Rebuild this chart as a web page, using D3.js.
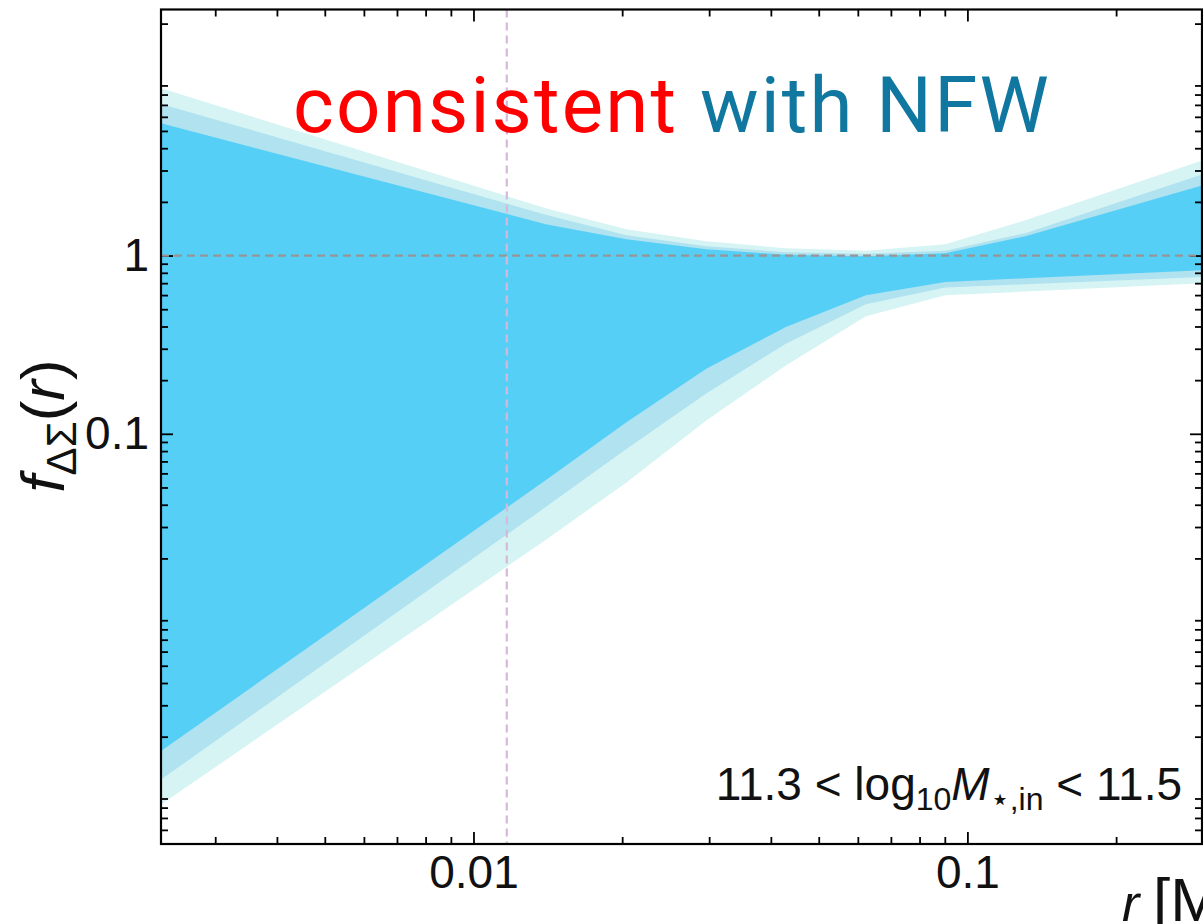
<!DOCTYPE html>
<html>
<head>
<meta charset="utf-8">
<script src="https://cdn.jsdelivr.net/npm/d3@7"></script>
<style>
  html, body { margin: 0; padding: 0; background: #ffffff; }
  svg { display: block; }
</style>
</head>
<body>
<svg id="chart" width="1203" height="924"></svg>
<script>
// ---- data ----
const radius      = [0.0023, 0.0140, 0.0204, 0.0296, 0.0429, 0.0623, 0.0902, 0.131, 0.30];
const outerUpper  = [8.79, 1.844, 1.405, 1.203, 1.099, 1.064, 1.157, 1.579, 3.43];
const middleUpper = [7.16, 1.693, 1.30, 1.128, 1.044, 1.024, 1.064, 1.335, 2.86];
const innerUpper  = [5.57, 1.499, 1.235, 1.085, 1.01, 0.991, 1.03, 1.284, 2.48];
const innerLower  = [0.00162, 0.0549, 0.1162, 0.2318, 0.397, 0.598, 0.711, 0.746, 0.827];
const middleLower = [0.00112, 0.0388, 0.0823, 0.1684, 0.3204, 0.5326, 0.661, 0.690, 0.758];
const outerLower  = [0.000812, 0.0254, 0.0533, 0.1188, 0.2419, 0.456, 0.598, 0.628, 0.699];

const xDomain = [0.00233, 0.2985];
const yDomain = [0.0005, 24];

const xMajorTicks = [0.01, 0.1];
const xTickLabels = ["0.01", "0.1"];
const xMinorTicks = [0.003, 0.004, 0.005, 0.006, 0.007, 0.008, 0.009,
                     0.02, 0.03, 0.04, 0.05, 0.06, 0.07, 0.08, 0.09, 0.2];
const yMajorTicks = [1, 0.1];
const yTickLabels = ["1", "0.1"];
const yMinorTicks = [0.0006, 0.0007, 0.0008, 0.0009,
                     0.002, 0.003, 0.004, 0.005, 0.006, 0.007, 0.008, 0.009,
                     0.02, 0.03, 0.04, 0.05, 0.06, 0.07, 0.08, 0.09,
                     0.2, 0.3, 0.4, 0.5, 0.6, 0.7, 0.8, 0.9,
                     2, 3, 4, 5, 6, 7, 8, 9, 20];
const referenceLevel = 1;
const referenceRadius = 0.01168;

// ---- layout ----
const L = 161, R = 1202, T = 9.5, B = 844;
const svg = d3.select("#chart");
const x = d3.scaleLog().domain(xDomain).range([L, R]);
const y = d3.scaleLog().domain(yDomain).range([B, T]);

svg.append("defs").append("clipPath").attr("id", "plotclip")
  .append("rect").attr("x", L).attr("y", T).attr("width", R - L).attr("height", B - T);

const rows = radius.map((r, i) => ({
  r, ou: outerUpper[i], mu: middleUpper[i], iu: innerUpper[i],
  il: innerLower[i], ml: middleLower[i], ol: outerLower[i]
}));

const plot = svg.append("g").attr("clip-path", "url(#plotclip)");
const band = (lo, hi) => d3.area().x(d => x(d.r)).y0(d => y(d[lo])).y1(d => y(d[hi]));

plot.append("path").datum(rows).attr("d", band("ol", "ou")).attr("fill", "#d6f4f4");
plot.append("path").datum(rows).attr("d", band("ml", "mu")).attr("fill", "#b0e2f0");
plot.append("path").datum(rows).attr("d", band("il", "iu")).attr("fill", "#56cff7");

// ---- axes ----
const tickFont = "'Liberation Sans', Arial, sans-serif";
function styleAxis(g) {
  g.select(".domain").remove();
  g.selectAll(".tick line").attr("stroke", "#000").attr("stroke-width", 1.8);
  g.selectAll(".tick text").attr("fill", "#111")
    .style("font-family", tickFont).style("font-size", "46px");
}

svg.append("g").attr("transform", `translate(0,${B})`)
  .call(d3.axisBottom(x).tickValues(xMinorTicks).tickSize(-7).tickFormat(""))
  .call(styleAxis);
svg.append("g").attr("transform", `translate(0,${B})`)
  .call(d3.axisBottom(x).tickValues(xMajorTicks).tickSize(-12).tickPadding(11)
        .tickFormat((d, i) => xTickLabels[i]))
  .call(styleAxis);
svg.append("g").attr("transform", `translate(0,${T})`)
  .call(d3.axisTop(x).tickValues(xMinorTicks).tickSize(-7).tickFormat(""))
  .call(styleAxis);
svg.append("g").attr("transform", `translate(0,${T})`)
  .call(d3.axisTop(x).tickValues(xMajorTicks).tickSize(-12).tickFormat(""))
  .call(styleAxis);

svg.append("g").attr("transform", `translate(${L},0)`)
  .call(d3.axisLeft(y).tickValues(yMinorTicks).tickSize(-7).tickFormat(""))
  .call(styleAxis);
svg.append("g").attr("transform", `translate(${L},0)`)
  .call(d3.axisLeft(y).tickValues(yMajorTicks).tickSize(-12).tickPadding(12)
        .tickFormat((d, i) => yTickLabels[i]))
  .call(styleAxis);
svg.append("g").attr("transform", `translate(${R},0)`)
  .call(d3.axisRight(y).tickValues(yMinorTicks).tickSize(-7).tickFormat(""))
  .call(styleAxis);
svg.append("g").attr("transform", `translate(${R},0)`)
  .call(d3.axisRight(y).tickValues(yMajorTicks).tickSize(-12).tickFormat(""))
  .call(styleAxis);

// ---- reference lines ----
svg.append("line")
  .attr("x1", L).attr("x2", R).attr("y1", y(referenceLevel)).attr("y2", y(referenceLevel))
  .attr("stroke", "#969696").attr("stroke-width", 2.2).attr("stroke-dasharray", "8,5");
svg.append("line")
  .attr("x1", x(referenceRadius)).attr("x2", x(referenceRadius)).attr("y1", T).attr("y2", B)
  .attr("stroke", "#d6b8da").attr("stroke-width", 2.2).attr("stroke-dasharray", "8,5");

// frame
svg.append("rect").attr("x", L).attr("y", T).attr("width", R - L).attr("height", B - T)
  .attr("fill", "none").attr("stroke", "#000").attr("stroke-width", 2.2);

// ---- texts ----
const title = svg.append("text").attr("x", 293).attr("y", 131.5)
  .style("font-family", "Roboto, 'Liberation Sans', sans-serif").style("font-size", "78px")
  .style("letter-spacing", "2.2px");
title.append("tspan").attr("fill", "#ff0000").text("consistent");
title.append("tspan").attr("fill", "#1077a0").text(" with NFW");

const ann = svg.append("text").attr("x", 1182).attr("y", 800).attr("text-anchor", "end")
  .style("font-family", tickFont).style("font-size", "46px").attr("fill", "#111");
ann.append("tspan").text("11.3 < log");
ann.append("tspan").attr("dy", 10).style("font-size", "32px").text("10");
ann.append("tspan").attr("dy", -10).style("font-style", "italic").text("M");
ann.append("tspan").attr("dy", 10).style("font-size", "32px").text("⋆,in");
ann.append("tspan").attr("dy", -10).text(" < 11.5");

const yl = svg.append("text").attr("transform", "translate(64,426) rotate(-90)")
  .attr("text-anchor", "middle")
  .style("font-family", tickFont).style("font-size", "62px").attr("fill", "#111");
yl.append("tspan").style("font-style", "italic").text("f");
yl.append("tspan").attr("dy", 12).style("font-size", "42px").text("ΔΣ");
yl.append("tspan").attr("dy", -12).text("(");
yl.append("tspan").style("font-style", "italic").text("r");
yl.append("tspan").text(")");

const xl = svg.append("text").attr("y", 921)
  .style("font-family", tickFont).style("font-size", "62px").attr("fill", "#111");
xl.append("tspan").attr("x", 1122).style("font-style", "italic").style("font-size", "52px").text("r");
xl.append("tspan").attr("x", 1153).text("[Mpc]");
</script>
</body>
</html>
